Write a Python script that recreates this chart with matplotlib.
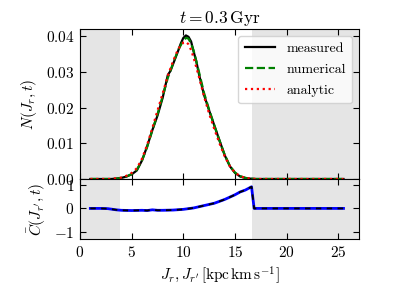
import numpy as np
import matplotlib
matplotlib.use("Agg")
import matplotlib.pyplot as plt
from matplotlib.ticker import FuncFormatter

plt.rcParams['font.family'] = 'serif'
plt.rcParams['font.serif'] = ['cmr10', 'DejaVu Serif']
plt.rcParams['mathtext.fontset'] = 'cm'
plt.rcParams['axes.formatter.use_mathtext'] = True

# ---- data ----
jr_meas = [1.0, 3.0, 3.5, 4.0, 4.5, 5.0, 5.5, 6.0, 6.5, 7.0, 7.5, 8.0, 8.5, 8.75, 9.0,
           9.5, 9.75, 10.0, 10.25, 10.5, 10.75, 11.0, 11.25, 11.5, 12.0, 12.5, 13.0,
           13.5, 14.0, 14.5, 15.0, 15.5, 16.0, 16.5, 17.0, 25.5]
n_meas = [0.0, 0.0, 0.0001, 0.0003, 0.0007, 0.0013, 0.0024, 0.0052, 0.0092, 0.0137,
          0.0178, 0.0228, 0.0292, 0.0303, 0.0322, 0.0360, 0.0380, 0.0396, 0.0403,
          0.0399, 0.0386, 0.0357, 0.0331, 0.0296, 0.0236, 0.0192, 0.0150, 0.0108,
          0.0067, 0.0036, 0.0017, 0.0007, 0.0003, 0.0001, 0.0, 0.0]

jr_num = [1.0, 3.0, 3.5, 4.0, 4.5, 5.0, 5.5, 6.0, 6.5, 7.0, 7.5, 8.0, 8.5, 9.0,
          9.5, 10.0, 10.25, 10.5, 10.75, 11.0, 11.5, 12.0, 12.5, 13.0,
          13.5, 14.0, 14.5, 15.0, 15.5, 16.0, 16.5, 17.0, 25.5]
n_num = [0.0, 0.0, 0.0001, 0.0003, 0.0007, 0.0014, 0.0026, 0.0052, 0.0090, 0.0137,
         0.0182, 0.0232, 0.0284, 0.0324, 0.0362, 0.0389, 0.0396, 0.0394, 0.0380,
         0.0360, 0.0302, 0.0242, 0.0194, 0.0150, 0.0108, 0.0068, 0.0037, 0.0018,
         0.0008, 0.0003, 0.0001, 0.0, 0.0]

jr_ana = [1.0, 3.0, 3.5, 4.0, 4.5, 5.0, 5.5, 6.0, 6.5, 7.0, 7.5, 8.0, 8.5, 9.0,
          9.5, 10.0, 10.25, 10.5, 10.75, 11.0, 11.5, 12.0, 12.5, 13.0,
          13.5, 14.0, 14.5, 15.0, 15.5, 16.0, 16.5, 17.0, 25.5]
n_ana = [0.0, 0.0, 0.0002, 0.0004, 0.0009, 0.0017, 0.0030, 0.0057, 0.0096, 0.0143,
         0.0192, 0.0240, 0.0290, 0.0330, 0.0365, 0.0383, 0.0385, 0.0378, 0.0362,
         0.0340, 0.0288, 0.0232, 0.0183, 0.0140, 0.0100, 0.0064, 0.0036, 0.0018,
         0.0008, 0.0003, 0.0001, 0.0, 0.0]

jr_c = [1.0, 2.0, 2.7, 3.5, 4.0, 5.0, 6.0, 6.5, 7.0, 7.5, 8.0, 9.0, 10.0, 11.0,
        12.0, 13.0, 13.5, 14.0, 14.5, 15.0, 15.5, 16.0, 16.6, 16.85, 25.5]
c_vals = [0.0, 0.0, -0.01, -0.06, -0.08, -0.09, -0.08, -0.09, -0.06, -0.08, -0.08,
          -0.07, -0.04, 0.02, 0.12, 0.22, 0.30, 0.38, 0.48, 0.58, 0.70, 0.78, 0.92,
          0.0, 0.0]

shade_left = (0.0, 3.9)
shade_right = (16.65, 27.0)

# ---- figure ----
fig = plt.figure(figsize=(3.99, 2.99), dpi=100)
ax1 = fig.add_axes([80/399, 1 - 179/299, 279/399, 150/299])
ax2 = fig.add_axes([80/399, 1 - 239/299, 279/399, 60/299], sharex=ax1)

for ax in (ax1, ax2):
    ax.axvspan(*shade_left, color='#e5e5e5', lw=0, zorder=0)
    ax.axvspan(*shade_right, color='#e5e5e5', lw=0, zorder=0)
    ax.tick_params(direction='in', top=True, right=True, labelsize=11, length=4, pad=4)
    ax.set_xlim(0, 27)

ax1.plot(jr_meas, n_meas, color='k', lw=1.6, ls='-', label='measured', zorder=3)
ax1.plot(jr_num, n_num, color='#008000', lw=1.6, ls='--', label='numerical', zorder=4)
ax1.plot(jr_ana, n_ana, color='r', lw=1.6, ls=':', label='analytic', zorder=5)
ax1.set_ylim(0, 0.0421)
ax1.set_yticks([0.0, 0.01, 0.02, 0.03, 0.04])
ax1.yaxis.set_major_formatter(FuncFormatter(lambda v, p: r'$%.2f$' % v))
ax1.tick_params(labelbottom=False)
ax1.set_ylabel(r'$N(J_r, t)$', fontsize=11, labelpad=5)
ax1.set_title(r'$t = 0.3\,\mathrm{Gyr}$', fontsize=12.5, pad=4)
leg = ax1.legend(loc='upper right', fontsize=10, handlelength=2.2, frameon=True,
                 borderaxespad=0.5, labelspacing=0.6, borderpad=0.45, handletextpad=0.8)
leg.get_frame().set_edgecolor('#cccccc')

ax2.plot(jr_c, c_vals, color='b', lw=2.0, ls='-', zorder=3)
ax2.plot(jr_c, c_vals, color='k', lw=1.3, ls='--', dashes=(3, 3), zorder=4)
ax2.set_ylim(-1.3, 1.25)
ax2.set_yticks([-1, 0, 1])
ax2.yaxis.set_major_formatter(FuncFormatter(lambda v, p: r'$%d$' % v))
ax2.set_xticks([0, 5, 10, 15, 20, 25])
ax2.xaxis.set_major_formatter(FuncFormatter(lambda v, p: r'$%d$' % v))
ax2.set_ylabel(r'$\bar{C}(J_{r^\prime}, t)$', fontsize=11)
ax2.set_xlabel(r'$J_r, J_{r^\prime}\,[\mathrm{kpc\,km\,s^{-1}}]$', fontsize=11, labelpad=3)

fig.align_ylabels([ax1, ax2])
fig.savefig('out.png', dpi=100)
